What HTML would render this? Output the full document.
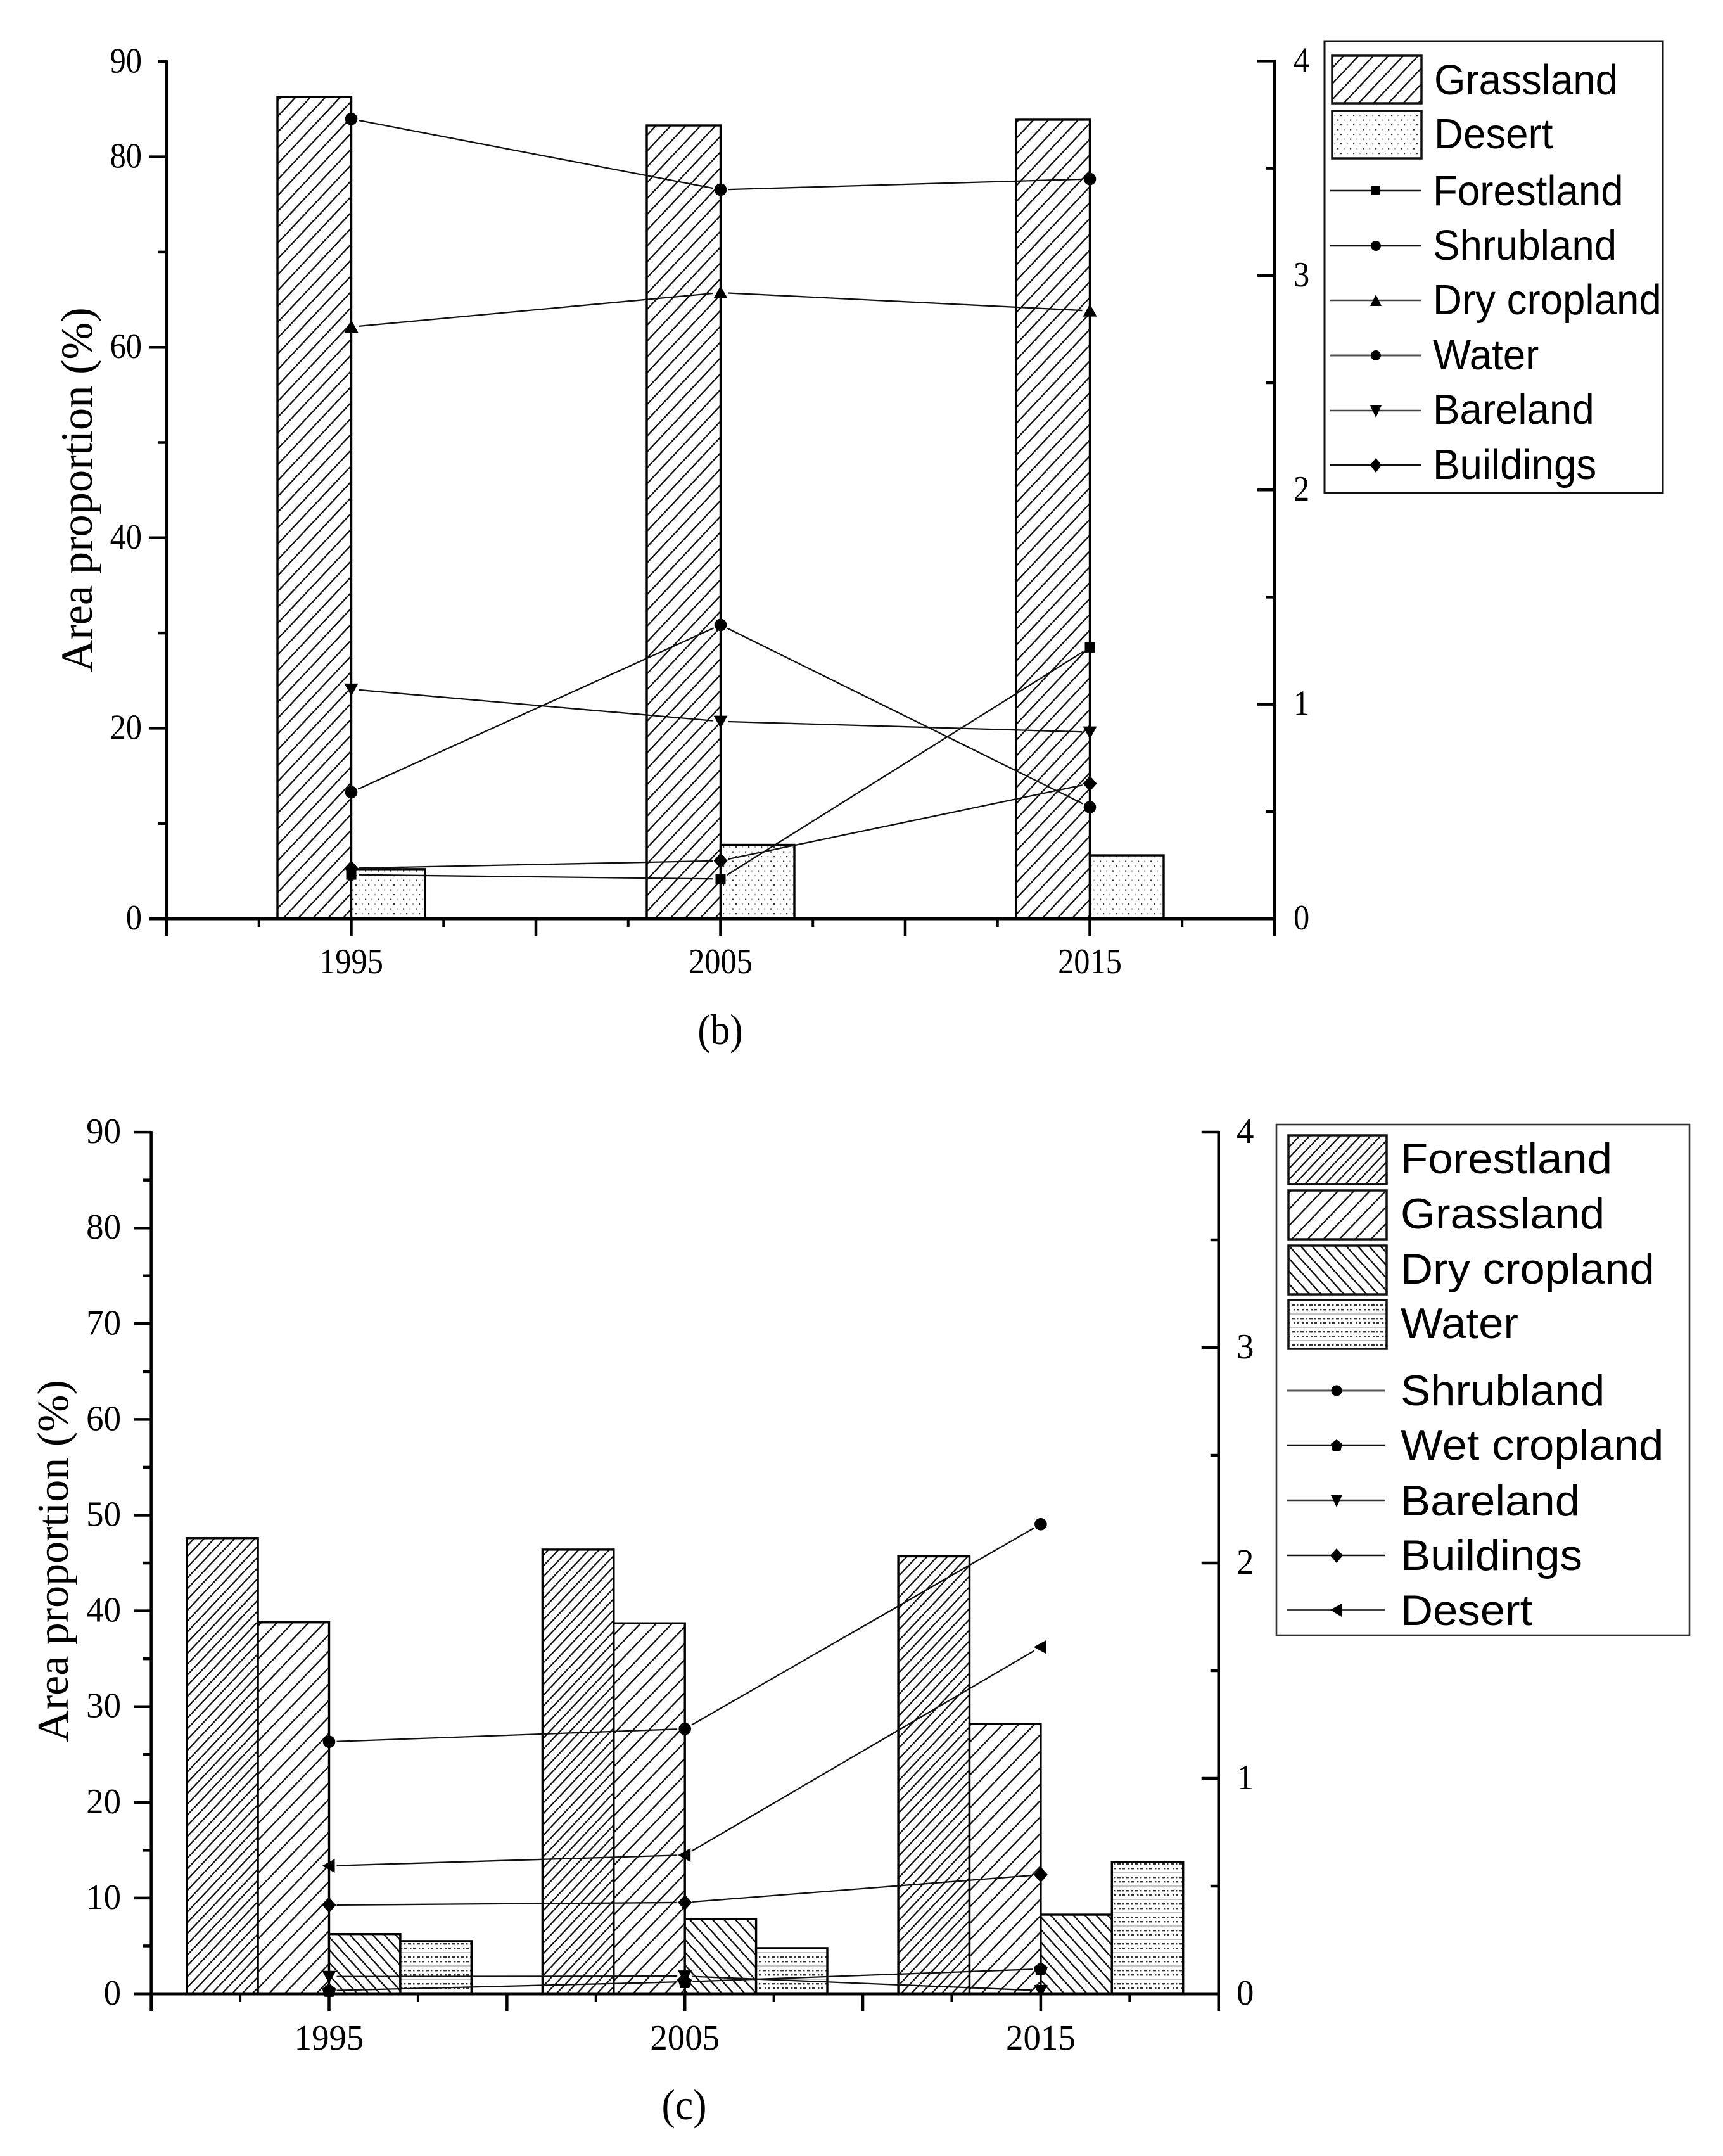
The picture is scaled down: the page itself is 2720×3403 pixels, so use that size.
<!DOCTYPE html>
<html lang="en">
<head>
<meta charset="utf-8">
<title>Area proportion charts (b) and (c)</title>
<style>
  html, body { margin: 0; padding: 0; background: #fff; }
  svg { display: block; }
  .serif { font-family: "Liberation Serif", serif; fill: #000; }
  .sans { font-family: "Liberation Sans", sans-serif; fill: #000; }
</style>
</head>
<body>
<svg id="figure" xmlns="http://www.w3.org/2000/svg" width="2720" height="3403" viewBox="0 0 2720 3403">
  <defs>
    <pattern id="hatch-b-grass" patternUnits="userSpaceOnUse" width="23.5" height="25">
      <rect width="23.5" height="25" fill="#fff"/>
      <path d="M0 25L23.5 0M-5.875 6.25L5.875 -6.25M17.625 31.25L29.375 18.75" stroke="#111" stroke-width="2.3" fill="none"/>
    </pattern>
    <pattern id="hatch-c-forest" patternUnits="userSpaceOnUse" width="16" height="17">
      <rect width="16" height="17" fill="#fff"/>
      <path d="M0 17L16 0M-4 4.25L4 -4.25M12 21.25L20 12.75" stroke="#111" stroke-width="2.2" fill="none"/>
    </pattern>
    <pattern id="hatch-c-grass" patternUnits="userSpaceOnUse" width="25" height="26">
      <rect width="25" height="26" fill="#fff"/>
      <path d="M0 26L25 0M-6.25 6.5L6.25 -6.5M18.75 32.5L31.25 19.5" stroke="#111" stroke-width="2.3" fill="none"/>
    </pattern>
    <pattern id="hatch-c-dry" patternUnits="userSpaceOnUse" width="18" height="20">
      <rect width="18" height="20" fill="#fff"/>
      <path d="M0 0L18 20M-4.5 15L4.5 25M13.5 -5L22.5 5" stroke="#111" stroke-width="2.3" fill="none"/>
    </pattern>
    <pattern id="dots-b-desert" patternUnits="userSpaceOnUse" width="20" height="15">
      <rect width="20" height="15" fill="#fff"/>
      <rect x="1" y="1" width="2.2" height="2.2" fill="#333"/>
      <rect x="11" y="1" width="2.2" height="2.2" fill="#aaa"/>
      <rect x="6" y="8.5" width="2.2" height="2.2" fill="#aaa"/>
      <rect x="16" y="8.5" width="2.2" height="2.2" fill="#333"/>
    </pattern>
    <pattern id="dots-c-water" patternUnits="userSpaceOnUse" width="14" height="21">
      <rect width="14" height="21" fill="#fff"/>
      <rect x="0" y="1" width="5" height="2.4" fill="#333"/>
      <rect x="8" y="1" width="2.4" height="2.4" fill="#333"/>
      <rect x="3" y="8" width="2.4" height="2.4" fill="#333"/>
      <rect x="8" y="8" width="4" height="2.4" fill="#333"/>
      <rect x="0" y="15" width="14" height="2" fill="#c4c4c4"/>
    </pattern>
  </defs>

  <g id="chart-b"></g>
  <g id="chart-c"></g>

  <text class="serif" font-size="70.5" text-anchor="middle" transform="translate(145,773) rotate(-90)">Area proportion (%)</text>
  <text class="serif" font-size="70" text-anchor="middle" transform="translate(107,2464) rotate(-90)">Area proportion (%)</text>
  <text class="serif" font-size="68" text-anchor="middle" transform="translate(1137,1648) scale(0.9,1)">(b)</text>
  <text class="serif" font-size="68" text-anchor="middle" transform="translate(1080,3345) scale(0.94,1)">(c)</text>

  <!-- Legend for chart b -->
  <g transform="translate(-5,0)">
    <rect x="2096" y="65" width="534" height="713" fill="#fff" stroke="#111" stroke-width="3"/>
    <g>
      <rect x="2108" y="88" width="141" height="75" fill="url(#hatch-b-grass)" stroke="#111" stroke-width="3.5"/>
      <text class="sans" font-size="67" transform="translate(2269,149) scale(0.95,1)">Grassland</text>
    </g>
    <g>
      <rect x="2108" y="175" width="141" height="75" fill="url(#dots-b-desert)" stroke="#111" stroke-width="3.5"/>
      <text class="sans" font-size="67" transform="translate(2269,234) scale(0.95,1)">Desert</text>
    </g>
    <g>
      <path d="M2105 301H2249" stroke="#111" stroke-width="2.4"/>
      <rect x="2170" y="294" width="14" height="14" fill="#000"/>
      <text class="sans" font-size="67" transform="translate(2267,324) scale(0.95,1)">Forestland</text>
    </g>
    <g>
      <path d="M2105 388H2249" stroke="#111" stroke-width="2.4"/>
      <circle cx="2177" cy="388" r="8" fill="#000"/>
      <text class="sans" font-size="67" transform="translate(2267,410) scale(0.95,1)">Shrubland</text>
    </g>
    <g>
      <path d="M2105 474H2249" stroke="#444" stroke-width="2.4"/>
      <path d="M2177 465L2186 483H2168Z" fill="#000"/>
      <text class="sans" font-size="67" transform="translate(2267,496) scale(0.95,1)">Dry cropland</text>
    </g>
    <g>
      <path d="M2105 561H2249" stroke="#555" stroke-width="3"/>
      <circle cx="2177" cy="561" r="8" fill="#000"/>
      <text class="sans" font-size="67" transform="translate(2267,583) scale(0.95,1)">Water</text>
    </g>
    <g>
      <path d="M2105 648H2249" stroke="#444" stroke-width="2.4"/>
      <path d="M2168 640H2186L2177 659Z" fill="#000"/>
      <text class="sans" font-size="67" transform="translate(2267,669) scale(0.95,1)">Bareland</text>
    </g>
    <g>
      <path d="M2105 734H2249" stroke="#111" stroke-width="2.4"/>
      <path d="M2177 723L2186 734L2177 746L2168 734Z" fill="#000"/>
      <text class="sans" font-size="67" transform="translate(2267,756) scale(0.95,1)">Buildings</text>
    </g>
  </g>

  <!-- Legend for chart c -->
  <g transform="translate(-5,0)">
    <rect x="2020" y="1775" width="652" height="806" fill="#fff" stroke="#333" stroke-width="2.6"/>
    <g>
      <rect x="2039" y="1792" width="155" height="77" fill="url(#hatch-c-forest)" stroke="#111" stroke-width="3.5"/>
      <text class="sans" font-size="68" transform="translate(2216,1852) scale(1.04,1)">Forestland</text>
    </g>
    <g>
      <rect x="2039" y="1879" width="155" height="77" fill="url(#hatch-c-grass)" stroke="#111" stroke-width="3.5"/>
      <text class="sans" font-size="68" transform="translate(2216,1939) scale(1.04,1)">Grassland</text>
    </g>
    <g>
      <rect x="2039" y="1966" width="155" height="77" fill="url(#hatch-c-dry)" stroke="#111" stroke-width="3.5"/>
      <text class="sans" font-size="68" transform="translate(2216,2026) scale(1.04,1)">Dry cropland</text>
    </g>
    <g>
      <rect x="2039" y="2052" width="155" height="77" fill="url(#dots-c-water)" stroke="#111" stroke-width="3.5"/>
      <text class="sans" font-size="68" transform="translate(2216,2112) scale(1.04,1)">Water</text>
    </g>
    <g>
      <path d="M2037 2195H2192" stroke="#555" stroke-width="3"/>
      <circle cx="2115" cy="2195" r="8.5" fill="#000"/>
      <text class="sans" font-size="68" transform="translate(2216,2218) scale(1.04,1)">Shrubland</text>
    </g>
    <g>
      <path d="M2037 2281H2192" stroke="#111" stroke-width="2.4"/>
      <path d="M2115 2272L2124 2279L2121 2291H2109L2106 2279Z" fill="#000"/>
      <text class="sans" font-size="68" transform="translate(2216,2304) scale(1.04,1)">Wet cropland</text>
    </g>
    <g>
      <path d="M2037 2368H2192" stroke="#333" stroke-width="2.4"/>
      <path d="M2106 2360H2124L2115 2379Z" fill="#000"/>
      <text class="sans" font-size="68" transform="translate(2216,2392) scale(1.04,1)">Bareland</text>
    </g>
    <g>
      <path d="M2037 2455H2192" stroke="#111" stroke-width="2.4"/>
      <path d="M2115 2444L2125 2455L2115 2467L2105 2455Z" fill="#000"/>
      <text class="sans" font-size="68" transform="translate(2216,2478) scale(1.04,1)">Buildings</text>
    </g>
    <g>
      <path d="M2037 2541H2192" stroke="#444" stroke-width="2.6"/>
      <path d="M2105 2541L2123 2531V2552Z" fill="#000"/>
      <text class="sans" font-size="68" transform="translate(2216,2565) scale(1.04,1)">Desert</text>
    </g>
  </g>
</svg>

<script>
// ---------- shared categories ----------
const years = ["1995", "2005", "2015"];

// ---------- chart (b) data ----------
const bGrassland = [86.3, 83.3, 83.9];
const bDesert = [5.2, 7.75, 6.65];
const bForestland = [0.205, 0.185, 1.265];
const bShrubland = [3.73, 3.40, 3.45];
const bDryCropland = [2.76, 2.92, 2.835];
const bWater = [0.59, 1.37, 0.52];
const bBareland = [1.07, 0.92, 0.87];
const bBuildings = [0.235, 0.27, 0.63];
const bLeftMajorTicks = [0, 20, 40, 60, 80];
const bLeftMinorTicks = [10, 30, 50, 70, 90];
const bLeftLabels = [0, 20, 40, 60, 80, 90];

// ---------- chart (c) data ----------
const cForestland = [47.6, 46.4, 45.7];
const cGrassland = [38.8, 38.7, 28.2];
const cDryCropland = [6.24, 7.8, 8.27];
const cWater = [5.5, 4.77, 13.77];
const cShrubland = [1.17, 1.23, 2.18];
const cWetCropland = [0.015, 0.056, 0.115];
const cBareland = [0.08, 0.082, 0.015];
const cBuildings = [0.412, 0.424, 0.553];
const cDesert = [0.594, 0.644, 1.61];
const cLeftMajorTicks = [0, 10, 20, 30, 40, 50, 60, 70, 80, 90];
const cLeftMinorTicks = [5, 15, 25, 35, 45, 55, 65, 75, 85];
const cLeftLabels = [0, 10, 20, 30, 40, 50, 60, 70, 80, 90];

// ---------- right-axis ticks (both charts) ----------
const rightMajorTicks = [0, 1, 2, 3, 4];
const rightMinorTicks = [0.5, 1.5, 2.5, 3.5];
const rightLabels = [0, 1, 2, 3, 4];

// ---------- axis functions ----------
function xB(i) { return 554.5 + 583 * i; }
function yLeftB(v) { return 1450 - v * 15.03; }
function yRightB(v) { return 1450 - v * 338.4; }
function xC(i) { return 519.5 + 561.7 * i; }
function yLeftC(v) { return 3147 - v * 15.11; }
function yRightC(v) { return 3147 - v * 340; }

const SVGNS = "http://www.w3.org/2000/svg";
function svgEl(tag, attrs, parent) {
  const node = document.createElementNS(SVGNS, tag);
  for (const k in attrs) node.setAttribute(k, attrs[k]);
  parent.appendChild(node);
  return node;
}

function markerShape(kind, parent, cx, cy) {
  const t = "translate(" + cx + "," + cy + ")";
  if (kind === "square") return svgEl("rect", { x: -8, y: -8, width: 16, height: 16, fill: "#000", transform: t }, parent);
  if (kind === "circle") return svgEl("circle", { r: 9.8, fill: "#000", transform: t }, parent);
  if (kind === "up") return svgEl("path", { d: "M0 -11L11 9H-11Z", fill: "#000", transform: t }, parent);
  if (kind === "down") return svgEl("path", { d: "M-11 -9H11L0 11Z", fill: "#000", transform: t }, parent);
  if (kind === "diamond") return svgEl("path", { d: "M0 -12.5L11 0L0 12.5L-11 0Z", fill: "#000", transform: t }, parent);
  if (kind === "left") return svgEl("path", { d: "M-11 0L9 -11V11Z", fill: "#000", transform: t }, parent);
  return svgEl("path", { d: "M0 -11.5L11 -3L7 10H-7L-11 -3Z", fill: "#000", transform: t }, parent);
}

function drawChart(chart) {
  const root = document.getElementById(chart.id);
  const x = chart.x, yL = chart.yL, yR = chart.yR;
  const y0 = yL(0);
  const xLeft = x(-0.5), xRight = x(2.5);
  const tickMajor = 27, tickMinor = 13;

  // bars
  chart.bars.forEach(function (s, k) {
    years.forEach(function (yr, i) {
      const left = x(i) + (k - chart.bars.length / 2) * chart.barWidth;
      const el = svgEl("rect", {
        x: left, y: yL(s.values[i]), width: chart.barWidth, height: y0 - yL(s.values[i]),
        fill: "url(#" + s.fill + ")", stroke: "#000", "stroke-width": 3.4
      }, root);
      
      
    });
  });

  // line series (on the right axis), lines stop short of the symbols
  chart.lines.forEach(function (s) {
    const gap = 12;
    for (let i = 0; i < years.length - 1; i++) {
      const x1 = x(i), y1 = yR(s.values[i]), x2 = x(i + 1), y2 = yR(s.values[i + 1]);
      const len = Math.hypot(x2 - x1, y2 - y1);
      const ux = (x2 - x1) / len, uy = (y2 - y1) / len;
      const seg = svgEl("line", {
        x1: x1 + ux * gap, y1: y1 + uy * gap, x2: x2 - ux * gap, y2: y2 - uy * gap,
        stroke: "#111", "stroke-width": 2.3
      }, root);
      
      
    }
    years.forEach(function (yr, i) {
      const m = markerShape(s.marker, root, x(i), yR(s.values[i]));
      
      
    });
  });

  // axes lines
  const leftAxis = svgEl("line", { x1: xLeft, y1: yL(90) - 2, x2: xLeft, y2: y0 + tickMajor, stroke: "#000", "stroke-width": 4.5 }, root);
  
  
  const rightAxis = svgEl("line", { x1: xRight, y1: yR(4) - 2, x2: xRight, y2: y0 + tickMajor, stroke: "#000", "stroke-width": 4.5 }, root);
  
  
  const bottomAxis = svgEl("line", { x1: xLeft - tickMajor, y1: y0, x2: xRight + 2, y2: y0, stroke: "#000", "stroke-width": 5 }, root);
  
  

  // left ticks
  chart.leftMajor.forEach(function (v) {
    const el = svgEl("line", { x1: xLeft - tickMajor, y1: yL(v), x2: xLeft, y2: yL(v), stroke: "#000", "stroke-width": 4.5 }, root);
    
    
  });
  chart.leftMinor.forEach(function (v) {
    const el = svgEl("line", { x1: xLeft - tickMinor, y1: yL(v), x2: xLeft, y2: yL(v), stroke: "#000", "stroke-width": 4.5 }, root);
    
    
  });
  chart.leftLabels.forEach(function (v) {
    const el = svgEl("text", {
      class: "serif", "font-size": 56, "text-anchor": "end",
      transform: "translate(" + chart.leftLabelX + "," + (yL(v) + 17) + ") scale(" + chart.digitScale + ",1)"
    }, root);
    el.textContent = String(v);
    
    
  });

  // right ticks
  rightMajorTicks.forEach(function (v) {
    const el = svgEl("line", { x1: xRight - tickMajor, y1: yR(v), x2: xRight, y2: yR(v), stroke: "#000", "stroke-width": 4.5 }, root);
    
    
  });
  rightMinorTicks.forEach(function (v) {
    const el = svgEl("line", { x1: xRight - tickMinor, y1: yR(v), x2: xRight, y2: yR(v), stroke: "#000", "stroke-width": 4.5 }, root);
    
    
  });
  rightLabels.forEach(function (v) {
    const el = svgEl("text", {
      class: "serif", "font-size": 56,
      transform: "translate(" + chart.rightLabelX + "," + (yR(v) + 17) + ") scale(" + chart.digitScale + ",1)"
    }, root);
    el.textContent = String(v);
    
    
  });

  // x ticks: major every half category step, minor between
  for (let q = -2; q <= 10; q++) {
    const pos = q / 4;
    const isMajor = q % 2 === 0;
    const el = svgEl("line", {
      x1: x(pos), y1: y0, x2: x(pos), y2: y0 + (isMajor ? tickMajor : tickMinor),
      stroke: "#000", "stroke-width": isMajor ? 4.5 : 4
    }, root);
    
    
  }
  years.forEach(function (yr, i) {
    const el = svgEl("text", {
      class: "serif", "font-size": 56, "text-anchor": "middle",
      transform: "translate(" + x(i) + "," + chart.yearBaseline + ") scale(" + chart.digitScale + ",1)"
    }, root);
    el.textContent = yr;
    
    
  });
}

drawChart({
  id: "chart-b", x: xB, yL: yLeftB, yR: yRightB, barWidth: 116.5,
  bars: [
    { name: "grassland", values: bGrassland, fill: "hatch-b-grass" },
    { name: "desert", values: bDesert, fill: "dots-b-desert" }
  ],
  lines: [
    { name: "forestland", values: bForestland, marker: "square" },
    { name: "shrubland", values: bShrubland, marker: "circle" },
    { name: "dry-cropland", values: bDryCropland, marker: "up" },
    { name: "water", values: bWater, marker: "circle" },
    { name: "bareland", values: bBareland, marker: "down" },
    { name: "buildings", values: bBuildings, marker: "diamond" }
  ],
  leftMajor: bLeftMajorTicks, leftMinor: bLeftMinorTicks, leftLabels: bLeftLabels,
  leftLabelX: 224, rightLabelX: 2042, yearBaseline: 1536, digitScale: 0.9
});

drawChart({
  id: "chart-c", x: xC, yL: yLeftC, yR: yRightC, barWidth: 112.4,
  bars: [
    { name: "forestland", values: cForestland, fill: "hatch-c-forest" },
    { name: "grassland", values: cGrassland, fill: "hatch-c-grass" },
    { name: "dry-cropland", values: cDryCropland, fill: "hatch-c-dry" },
    { name: "water", values: cWater, fill: "dots-c-water" }
  ],
  lines: [
    { name: "shrubland", values: cShrubland, marker: "circle" },
    { name: "wet-cropland", values: cWetCropland, marker: "pentagon" },
    { name: "bareland", values: cBareland, marker: "down" },
    { name: "buildings", values: cBuildings, marker: "diamond" },
    { name: "desert", values: cDesert, marker: "left" }
  ],
  leftMajor: cLeftMajorTicks, leftMinor: cLeftMinorTicks, leftLabels: cLeftLabels,
  leftLabelX: 191, rightLabelX: 1952, yearBaseline: 3235, digitScale: 0.98
});
</script>
</body>
</html>
